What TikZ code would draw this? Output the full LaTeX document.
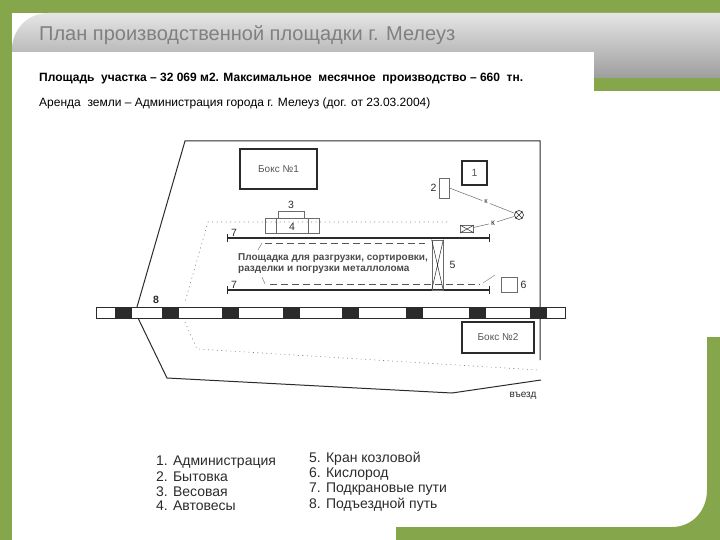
\documentclass[tikz,border=0pt]{standalone}
\usepackage{fontspec}
\setmainfont{Liberation Sans}
\usepackage{tikz}
\usetikzlibrary{positioning}
\definecolor{leaf}{HTML}{86A64B}
\definecolor{ink}{HTML}{2B2B2B}
\tikzset{
  wall/.style={draw=ink, line width=1pt},
  thin wall/.style={draw=ink!70, line width=0.7pt},
  dots/.style={draw=ink!60, line width=0.6pt, dash pattern=on 1pt off 3.5pt},
  rail/.style={draw=ink, line width=1.2pt},
  pad/.style={draw=ink!80, line width=0.8pt, dash pattern=on 7pt off 4pt},
  tag/.style={font=\fontsize{10.5}{11}\selectfont, text=ink, inner sep=0pt},
  box/.style={draw=ink, line width=1.2pt, font=\fontsize{10}{10}\selectfont, text=ink!80, inner sep=0pt},
  sleeper/.style={fill=ink, draw=ink},
  legend/.style={font=\fontsize{14}{14}\selectfont, text=ink, inner sep=0pt, anchor=west}
}
\begin{document}
\begin{tikzpicture}[x=1pt, y=-1pt]
  \useasboundingbox (0, 0) rectangle (720, 540);
  % slide frame
  \fill[white] (0, 0) rectangle (720, 540);
  \fill[leaf] (0, 0) rectangle (720, 13);
  \fill[leaf] (0, 0) rectangle (12, 540);
  \fill[leaf] (594, 78) rectangle (720, 91);
  \fill[leaf] (707, 337) rectangle (720, 540);
  \fill[leaf] (396, 527) rectangle (720, 540);
  \fill[leaf] (707, 527) -- (707, 490) .. controls (707, 511) and (692, 527) .. (672, 527) -- cycle;
  \shade[top color=black!10, bottom color=black!38]
    (12, 78) -- (12, 50) .. controls (12, 29) and (28, 13) .. (48, 13) -- (720, 13) -- (720, 78) -- cycle;
  \fill[white] (12, 52) rectangle (594, 100);
  % title
  \node[anchor=west, inner sep=0pt, text=black!50, font=\fontsize{20}{20}\selectfont] (title) at (39, 35) {План производственной площадки г. Мелеуз};
  \node[anchor=west, inner sep=0pt, font=\bfseries\fontsize{12}{12}\selectfont] (area) at (39, 79) {Площадь\ \ участка – 32 069 м2. Максимальное\ \ месячное\ \ производство – 660\ \ тн.};
  \node[anchor=west, inner sep=0pt, font=\fontsize{12}{12}\selectfont] (lease) at (39, 103) {Аренда\ \ земли – Администрация города г. Мелеуз (дог. от 23.03.2004)};
  % fence
  \draw[wall] (137, 307) -- (185, 141) -- (540, 141) -- (540, 360);
  \draw[wall] (138, 318) -- (167, 378) -- (452, 393) -- (541, 380);
  \draw[dots] (447, 222) -- (208, 222) -- (185, 302);
  \draw[dots] (185, 322) -- (197, 349) -- (538, 370);
  % buildings
  \node[box, minimum width=77, minimum height=40] (box1) at (278.5, 169) {Бокс №1};
  \node[box, minimum width=72, minimum height=31] (box2) at (498, 337.5) {Бокс №2};
  \node[box, minimum width=25, minimum height=24, font=\fontsize{10.5}{11}\selectfont] (adm) at (474.5, 173) {1};
  \node[thin wall, draw, minimum width=10, minimum height=20, inner sep=0pt] (hut) at (444, 188) {};
  \node[tag, left=2pt of hut] (hutN) {2};
  \node[thin wall, draw, minimum width=26, minimum height=7, inner sep=0pt] (weigh) at (291, 214.5) {};
  \node[tag, above=2pt of weigh] (weighN) {3};
  \node[thin wall, draw, minimum width=54, minimum height=15, inner sep=0pt] (scale) at (292, 225.5) {};
  \node[tag] (scaleN) at (292, 226.5) {4};
  \draw[thin wall] (276, 218) -- (276, 233);
  \draw[thin wall] (308, 218) -- (308, 233);
  % gas line
  \node[draw=ink, circle, line width=0.6pt, minimum size=9, inner sep=0pt] (lamp) at (519, 215) {};
  \draw[ink, line width=0.5pt] (lamp.north west) -- (lamp.south east) (lamp.north east) -- (lamp.south west);
  \node[thin wall, draw, minimum width=13, minimum height=7, inner sep=0pt] (envl) at (467, 229) {};
  \draw[ink, line width=0.5pt] (envl.north west) -- (envl.south east) (envl.north east) -- (envl.south west);
  \node[tag, inner sep=2pt, font=\fontsize{7.5}{8}\selectfont] (k1) at (486, 202) {к};
  \node[tag, inner sep=2pt, font=\fontsize{8.5}{9}\selectfont] (k2) at (493, 223) {к};
  \draw[thin wall, line width=0.5pt] (hut.east) -- (k1) -- (lamp);
  \draw[thin wall, line width=0.5pt] (envl) -- (k2) -- (lamp);
  % crane rails
  \coordinate (r1a) at (227, 238);
  \coordinate (r1b) at (490, 238);
  \coordinate (r2a) at (227, 290);
  \coordinate (r2b) at (490, 290);
  \draw[rail, |-|] (r1a) -- (r1b);
  \draw[rail, |-|] (r2a) -- (r2b);
  \node[tag, above right=1pt and 4pt of r1a] (r1N) {7};
  \node[tag, above right=1pt and 4pt of r2a] (r2N) {7};
  % work area
  \draw[pad] (265, 243) -- (425, 243);
  \draw[pad] (270, 284) -- (480, 284);
  \draw[thin wall, line width=0.4pt] (262, 243) -- (258, 250);
  \draw[thin wall, line width=0.4pt] (262, 277) -- (265, 284);
  \draw[thin wall, line width=0.4pt] (483, 283) -- (495, 275);
  \node[tag, anchor=west, font=\bfseries\fontsize{10}{11}\selectfont, align=left, text=ink!85] (areaTxt) at (238, 263.5) {Площадка для разгрузки, сортировки,\\разделки и погрузки металлолома};
  % crane
  \node[thin wall, draw, minimum width=11, minimum height=50, inner sep=0pt] (crane) at (437.5, 265) {};
  \draw[ink, line width=0.5pt] (crane.north west) -- (crane.south east) (crane.north east) -- (crane.south west);
  \node[tag, right=6pt of crane] (craneN) {5};
  % oxygen
  \node[thin wall, draw, minimum width=16, minimum height=15, inner sep=0pt] (oxy) at (509, 284.5) {};
  \node[tag, right=3pt of oxy] (oxyN) {6};
  % siding
  \node[draw=ink, line width=1pt, minimum width=469, minimum height=11, inner sep=0pt] (siding) at (330.5, 312.5) {};
  \foreach \xs in {115, 162, 222, 283, 342, 406, 469, 530}
    \fill[sleeper] (\xs, 307) rectangle ++(16.5, 11);
  \node[tag, font=\bfseries\fontsize{10.5}{11}\selectfont] (sidN) at (156, 300) {8};
  \node[tag, font=\fontsize{10}{10}\selectfont] (gate) at (523, 396) {въезд};
  % legend
  \node[legend] (l1) at (156, 462) {1. Администрация};
  \node[legend] (l2) at (156, 477) {2. Бытовка};
  \node[legend] (l3) at (156, 492) {3. Весовая};
  \node[legend] (l4) at (156, 506) {4. Автовесы};
  \node[legend] (l5) at (309, 459) {5. Кран козловой};
  \node[legend] (l6) at (309, 474) {6. Кислород};
  \node[legend] (l7) at (309, 489) {7. Подкрановые пути};
  \node[legend] (l8) at (309, 505) {8. Подъездной путь};
\end{tikzpicture}
\end{document}
